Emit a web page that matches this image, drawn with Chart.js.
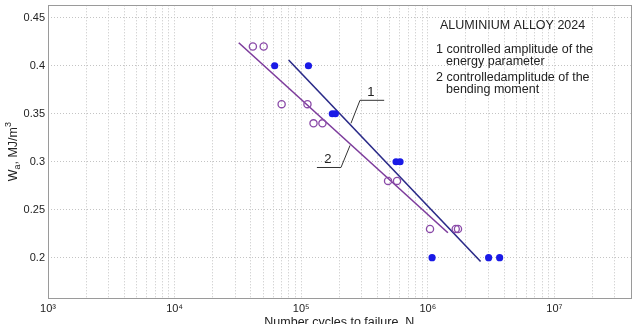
<!DOCTYPE html>
<html>
<head>
<meta charset="utf-8">
<script src="https://cdn.jsdelivr.net/npm/chart.js@4/dist/chart.umd.min.js"></script>
<style>
  html, body { margin: 0; padding: 0; background: #ffffff; }
  #wrap { width: 636px; height: 324px; position: relative; }
</style>
</head>
<body>
<div id="wrap"><canvas id="c" width="636" height="324"></canvas></div>
<script>
// ---- data ----
const energyN = [61700, 114000, 176000, 186000, 561000, 603000, 1080000, 3020000, 3690000];
const energyW = [0.40, 0.40, 0.35, 0.35, 0.30, 0.30, 0.20, 0.20, 0.20];
const momentN = [41500, 50500, 70000, 112000, 125000, 147000, 485000, 571000, 1040000, 1660000, 1730000];
const momentW = [0.42, 0.42, 0.36, 0.36, 0.34, 0.34, 0.28, 0.28, 0.23, 0.23, 0.23];
const fit1N = [79500, 2610000];
const fit1W = [0.406, 0.196];
const fit2N = [32100, 1440000];
const fit2W = [0.424, 0.226];
const leader1N = [452000, 291000, 247000];
const leader1W = [0.364, 0.364, 0.340];
const leader2N = [133000, 206000, 243000];
const leader2W = [0.294, 0.294, 0.317];
const leaderLabels = ['1', '2'];
const leaderLabelN = [355000, 162000];
const leaderLabelW = [0.372, 0.302];
const yTicks = [0.2, 0.25, 0.3, 0.35, 0.4, 0.45];
const yTickLabels = ['0.2', '0.25', '0.3', '0.35', '0.4', '0.45'];
const xDecades = [1e3, 1e4, 1e5, 1e6, 1e7];
const xTickLabels = ['10\u00B3', '10\u2074', '10\u2075', '10\u2076', '10\u2077'];
const xMin = 1000, xMax = 40000000;
const yMin = 0.158, yMax = 0.463;
const titleLines = ['ALUMINIUM ALLOY 2024'];
const noteLines = ['1 controlled amplitude of the', 'energy parameter', '2 controlledamplitude of the', 'bending moment'];

const pts = (xs, ys) => xs.map((x, i) => ({ x: x, y: ys[i] }));

const FONT = '"Liberation Sans", Arial, sans-serif';

const decor = {
  id: 'decor',
  afterDraw(chart) {
    const ctx = chart.ctx, a = chart.chartArea;
    const xs = chart.scales.x, ys = chart.scales.y;
    ctx.save();
    // frame
    ctx.strokeStyle = '#9a9a9a';
    ctx.lineWidth = 1;
    ctx.strokeRect(Math.round(a.left) + 0.5, Math.round(a.top) + 0.5, Math.round(a.right - a.left), Math.round(a.bottom - a.top));
    // leader labels
    ctx.fillStyle = '#222';
    ctx.font = '13px ' + FONT;
    ctx.textAlign = 'center';
    ctx.textBaseline = 'middle';
    leaderLabels.forEach((t, i) => {
      ctx.fillText(t, xs.getPixelForValue(leaderLabelN[i]), ys.getPixelForValue(leaderLabelW[i]));
    });
    // text block
    ctx.textAlign = 'left';
    ctx.font = '12.5px ' + FONT;
    ctx.fillText(titleLines[0], 440, 26);
    ctx.fillText(noteLines[0], 436, 50);
    ctx.fillText(noteLines[1], 446, 62);
    ctx.fillText(noteLines[2], 436, 78);
    ctx.fillText(noteLines[3], 446, 90);
    // y title with sub/superscript (rotated)
    ctx.translate(13, (a.top + a.bottom) / 2);
    ctx.rotate(-Math.PI / 2);
    ctx.textBaseline = 'alphabetic';
    const parts = [
      { t: 'W', f: 12.5, dy: 0 },
      { t: 'a', f: 9, dy: 3 },
      { t: ', MJ/m', f: 12.5, dy: 0 },
      { t: '3', f: 9, dy: -6 }
    ];
    let w = 0;
    parts.forEach(p => { ctx.font = p.f + 'px ' + FONT; w += ctx.measureText(p.t).width; });
    let x = -w / 2;
    parts.forEach(p => {
      ctx.font = p.f + 'px ' + FONT;
      ctx.fillText(p.t, x, 4 + p.dy);
      x += ctx.measureText(p.t).width;
    });
    ctx.restore();
    // x title (partly cut at the bottom, as in the reference)
    ctx.save();
    ctx.fillStyle = '#222';
    ctx.font = '12.5px ' + FONT;
    ctx.textAlign = 'center';
    ctx.textBaseline = 'top';
    ctx.fillText('Number cycles to failure, N', (a.left + a.right) / 2, 316);
    ctx.restore();
  }
};

new Chart(document.getElementById('c'), {
  type: 'scatter',
  data: {
    datasets: [
      { label: '1', data: pts(energyN, energyW), pointStyle: 'circle', pointRadius: 3.6,
        backgroundColor: '#1a1ae6', borderColor: '#1a1ae6', borderWidth: 0, showLine: false },
      { label: '2', data: pts(momentN, momentW), pointStyle: 'circle', pointRadius: 3.6,
        backgroundColor: 'rgba(255,255,255,0)', borderColor: '#8a4aa8', borderWidth: 1.3, showLine: false },
      { label: 'fit1', data: pts(fit1N, fit1W), showLine: true, pointRadius: 0,
        borderColor: '#2a2a88', borderWidth: 1.6, fill: false },
      { label: 'fit2', data: pts(fit2N, fit2W), showLine: true, pointRadius: 0,
        borderColor: '#7d3c9c', borderWidth: 1.6, fill: false },
      { label: 'lead1', data: pts(leader1N, leader1W), showLine: true, pointRadius: 0,
        borderColor: '#333333', borderWidth: 1, fill: false },
      { label: 'lead2', data: pts(leader2N, leader2W), showLine: true, pointRadius: 0,
        borderColor: '#333333', borderWidth: 1, fill: false }
    ]
  },
  options: {
    responsive: false,
    animation: false,
    layout: { padding: { top: 5, right: 3, left: 0, bottom: 0 } },
    plugins: { legend: { display: false }, tooltip: { enabled: false } },
    scales: {
      x: {
        type: 'logarithmic',
        min: xMin, max: xMax,
        afterBuildTicks(scale) {
          const t = [];
          xDecades.forEach(d => { for (let m = 1; m <= 9; m++) { const v = d * m; if (v < xMax) t.push({ value: v }); } });
          scale.ticks = t;
        },
        afterFit(scale) { scale.height = 26; scale.paddingLeft = 0; scale.paddingRight = 0; },
        ticks: {
          autoSkip: false, maxRotation: 0, padding: 4, color: '#222',
          font: { family: FONT, size: 11 },
          callback(v) { const i = xDecades.indexOf(v); return i >= 0 ? xTickLabels[i] : ''; }
        },
        grid: { color: '#c4c4c4', lineWidth: 1, drawTicks: false },
        border: { display: false, dash: [1, 2] }
      },
      y: {
        min: yMin, max: yMax,
        afterBuildTicks(scale) { scale.ticks = yTicks.map(v => ({ value: v })); },
        afterFit(scale) { scale.width = 48; scale.paddingTop = 0; scale.paddingBottom = 0; },
        ticks: {
          autoSkip: false, padding: 3, color: '#222',
          font: { family: FONT, size: 11 },
          callback(v) { const i = yTicks.findIndex(t => Math.abs(t - v) < 1e-9); return i >= 0 ? yTickLabels[i] : ''; }
        },
        grid: { color: '#c4c4c4', lineWidth: 1, drawTicks: false },
        border: { display: false, dash: [1, 2] }
      }
    }
  },
  plugins: [decor]
});
</script>
</body>
</html>
